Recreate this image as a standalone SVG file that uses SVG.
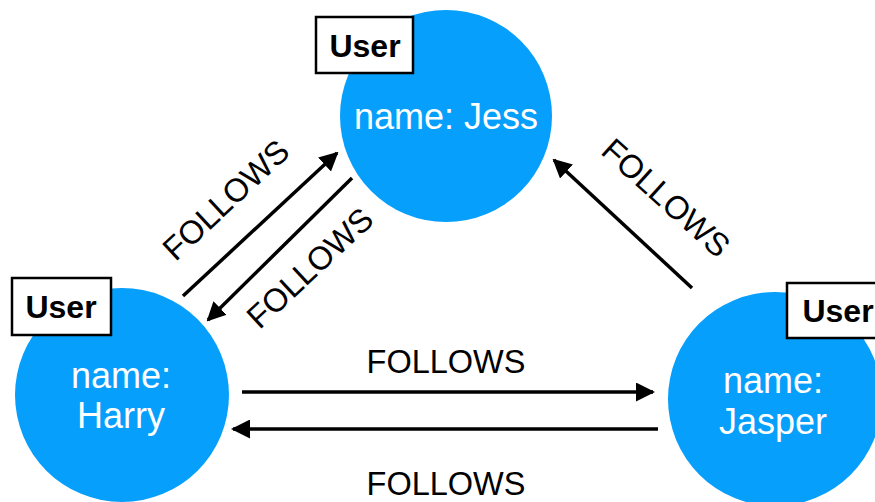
<svg xmlns="http://www.w3.org/2000/svg" width="875" height="502" viewBox="0 0 875 502">
<style>
.node{fill:#069FFB}
.name{fill:#fff;font-family:"Liberation Sans",Arial,sans-serif;font-size:36px;text-anchor:middle}
.lbl{fill:#fff;stroke:#000;stroke-width:2.5}
.lbltxt{fill:#000;font-family:"Liberation Sans",Arial,sans-serif;font-size:32px;font-weight:bold;text-anchor:middle}
.edge{stroke:#000;stroke-width:3.5;fill:none;marker-end:url(#ah)}
.etxt{fill:#000;font-family:"Liberation Sans",Arial,sans-serif;font-size:32.5px;text-anchor:middle}
</style>
<defs>
<marker id="ah" markerUnits="userSpaceOnUse" viewBox="0 0 19 19" refX="17" refY="9.5" markerWidth="19" markerHeight="19" orient="auto">
<path d="M0,0 L19,9.5 L0,19 z" fill="#000"/>
</marker>
</defs>
<rect width="875" height="502" fill="#fff"/>
<g id="connectors">
<line class="edge" x1="183" y1="296" x2="337" y2="153"/>
<line class="edge" x1="352" y1="178" x2="208" y2="320"/>
<line class="edge" x1="692" y1="288" x2="554" y2="160"/>
<line class="edge" x1="242" y1="392" x2="653" y2="392"/>
<line class="edge" x1="658" y1="429" x2="233" y2="429"/>
<text class="etxt" transform="translate(226,200) rotate(-43)" y="11">FOLLOWS</text>
<text class="etxt" transform="translate(310,268) rotate(-43)" y="11">FOLLOWS</text>
<text class="etxt" transform="translate(666,198) rotate(42)" y="11">FOLLOWS</text>
<text class="etxt" x="446" y="373">FOLLOWS</text>
<text class="etxt" x="446" y="495">FOLLOWS</text>
</g>
<g id="jess">
<circle class="node" cx="446" cy="116" r="106"/>
<text class="name" x="446" y="129">name: Jess</text>
<rect class="lbl" x="316" y="17" width="97" height="56"/>
<text class="lbltxt" x="365" y="57">User</text>
</g>
<g id="harry">
<circle class="node" cx="122" cy="395" r="107"/>
<text class="name" x="121" y="388">name:</text>
<text class="name" x="121" y="428">Harry</text>
<rect class="lbl" x="12" y="278" width="99" height="57"/>
<text class="lbltxt" x="61" y="318">User</text>
</g>
<g id="jasper">
<circle class="node" cx="775" cy="399" r="107"/>
<text class="name" x="773" y="393">name:</text>
<text class="name" x="773" y="434">Jasper</text>
<rect class="lbl" x="787" y="283" width="100" height="55"/>
<text class="lbltxt" x="838" y="322">User</text>
</g>
</svg>
